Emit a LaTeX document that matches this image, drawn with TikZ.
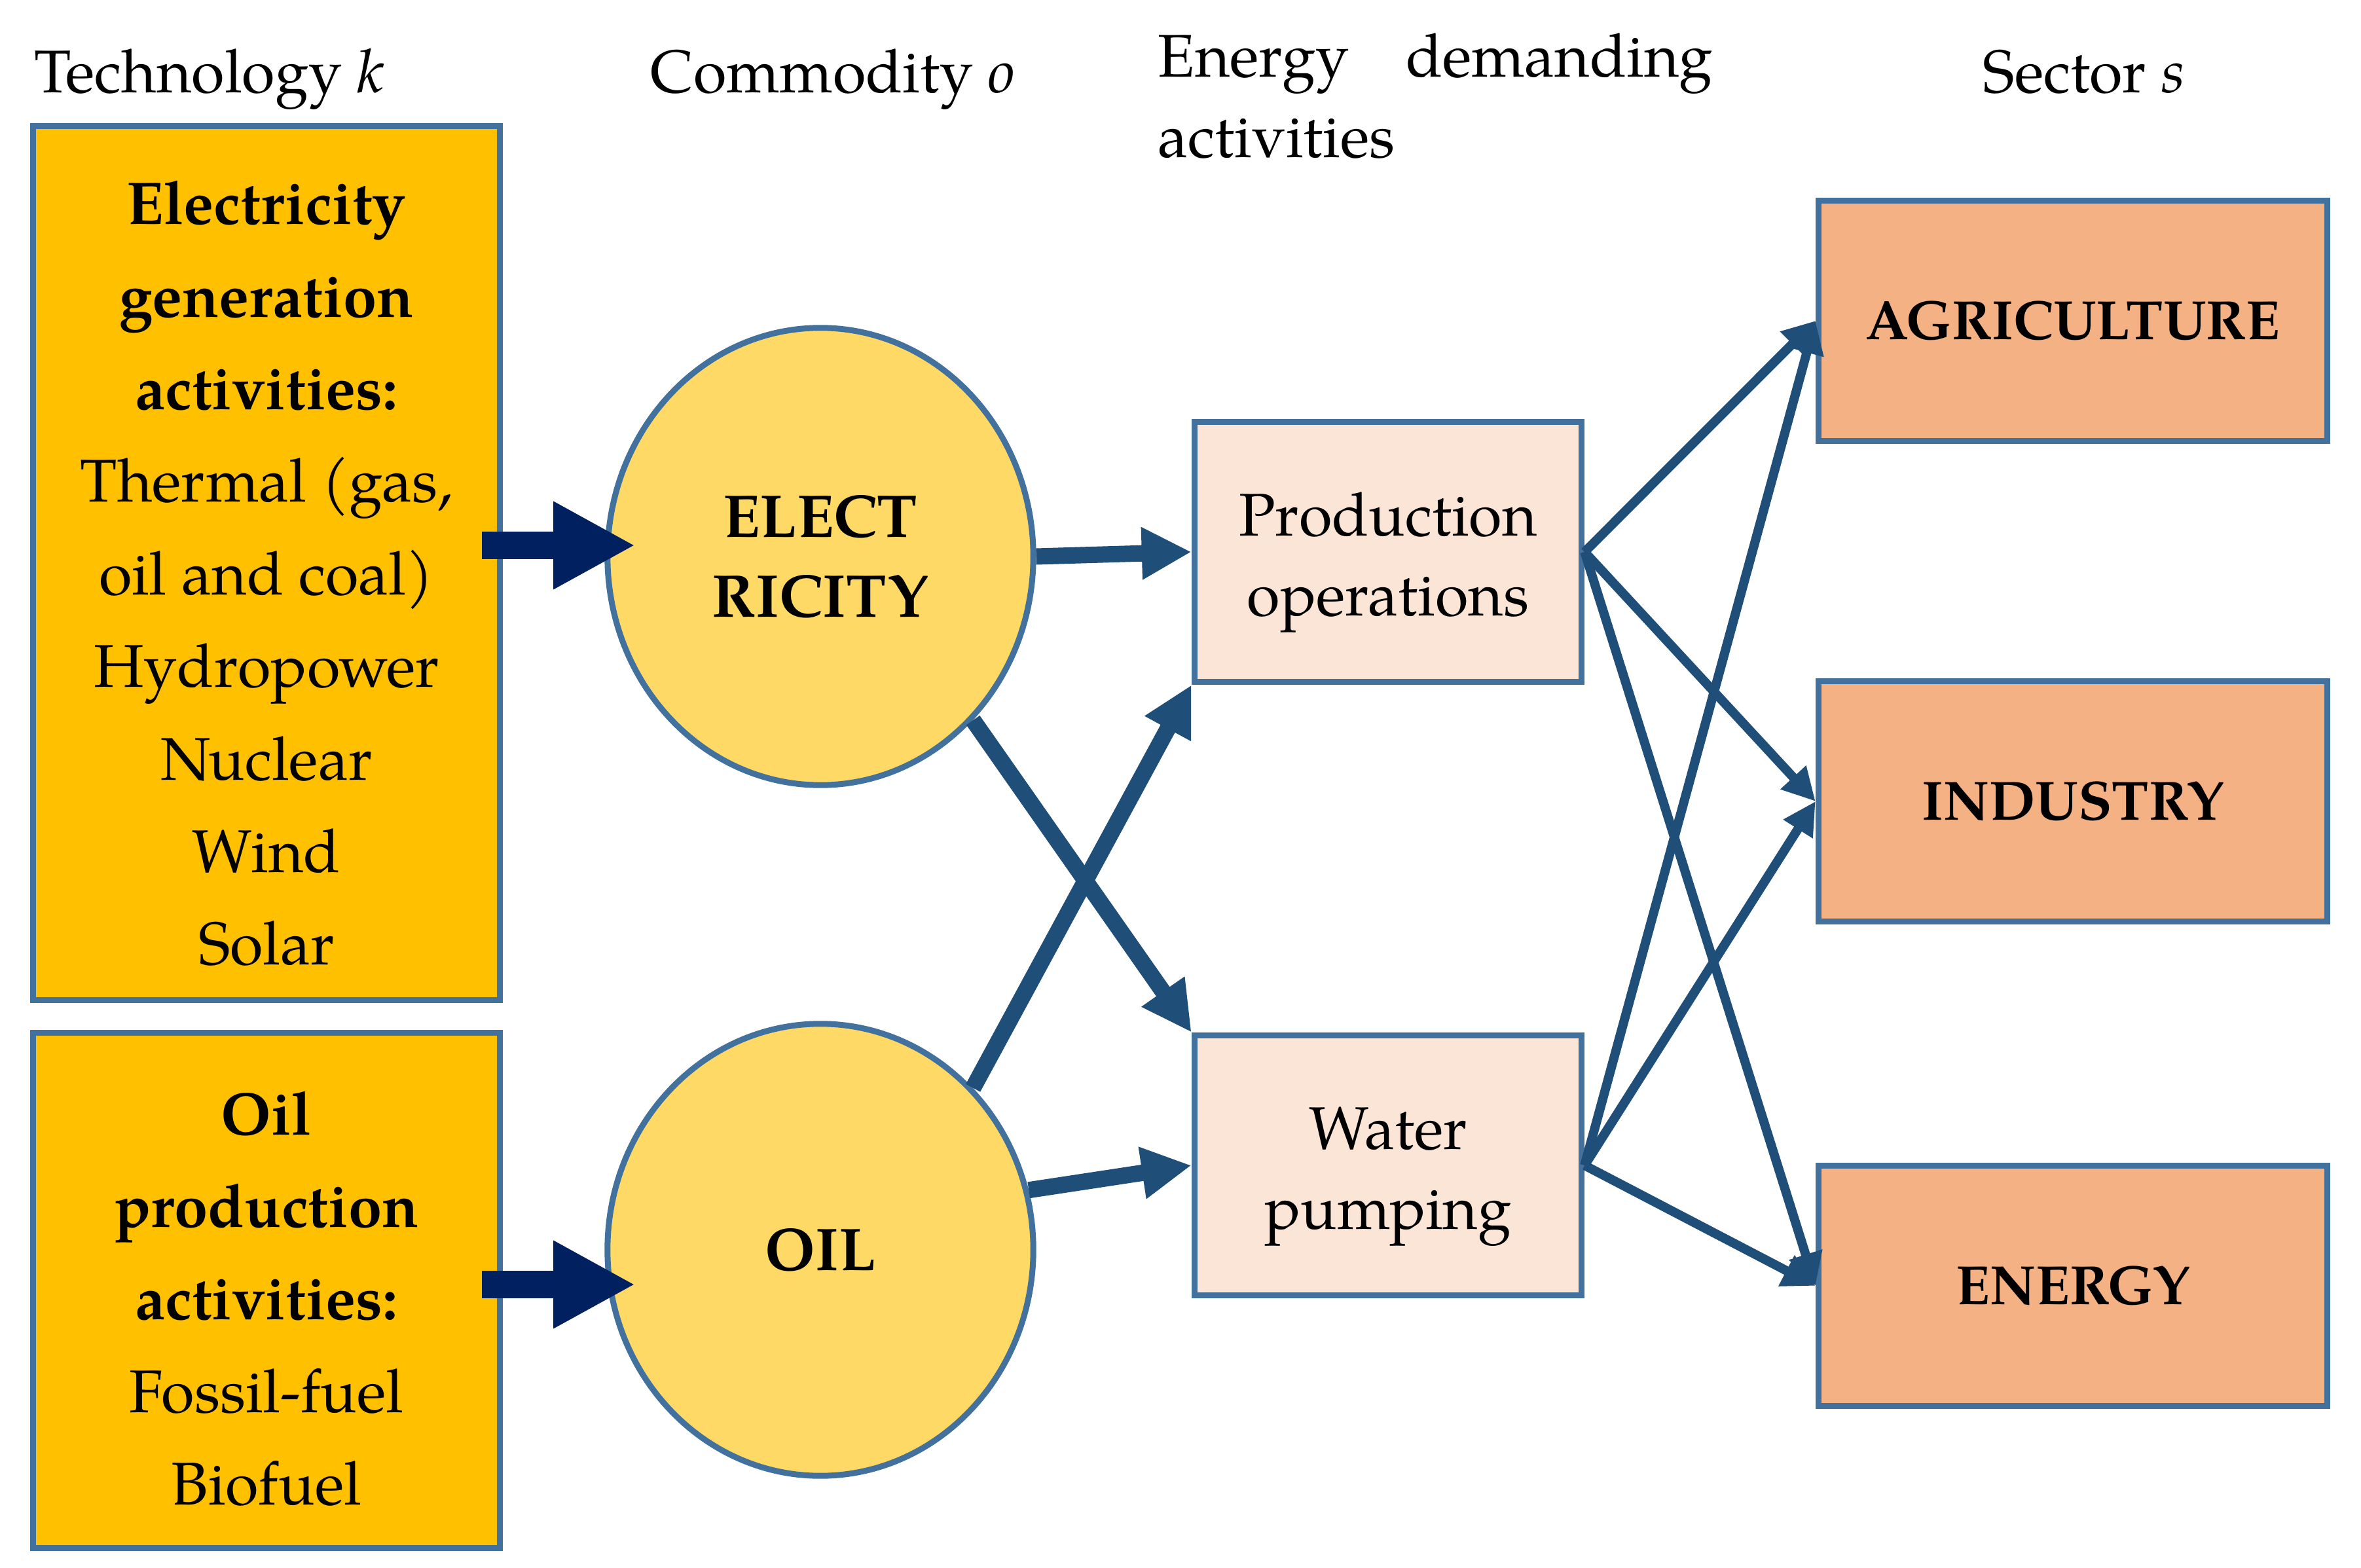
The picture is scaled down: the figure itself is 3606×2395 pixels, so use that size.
\documentclass[tikz,border=0pt]{standalone}
\usepackage{fontspec}
\setmainfont{TeX Gyre Pagella}
\usetikzlibrary{arrows.meta,shapes.geometric,calc}
\definecolor{gold}{HTML}{FFC000}
\definecolor{lgold}{HTML}{FFD966}
\definecolor{peach}{HTML}{FBE5D6}
\definecolor{orng}{HTML}{F4B183}
\definecolor{bord}{HTML}{41719C}
\definecolor{conn}{HTML}{1F4E79}
\definecolor{navy}{HTML}{002060}
\newcommand{\toppad}[1]{\rule{0pt}{#1}}
\tikzset{
 techbox/.style={rectangle, draw=bord, line width=0.09cm, fill=gold, minimum width=7.12cm, align=center, inner sep=0pt, font=\fontsize{26.2}{40.2}\selectfont},
 comm/.style={ellipse, draw=bord, line width=0.09cm, fill=lgold, minimum width=6.5cm, minimum height=6.98cm, align=center, inner sep=0pt, font=\bfseries\fontsize{26.2}{34.7}\selectfont},
 actbox/.style={rectangle, draw=bord, line width=0.09cm, fill=peach, minimum width=5.91cm, minimum height=3.97cm, align=center, inner sep=0pt, font=\fontsize{26.2}{34.7}\selectfont},
 secbox/.style={rectangle, draw=bord, line width=0.09cm, fill=orng, minimum width=7.77cm, minimum height=3.67cm, inner sep=0pt, font=\bfseries\fontsize{24}{30}\selectfont},
 navyarr/.style={draw=navy, line width=0.42cm, -{Triangle[length=1.25cm,width=1.25cm]}},
 thickarr/.style={draw=conn, line width=0.25cm, -{Triangle[length=0.76cm,width=0.75cm]}},
 thinarr/.style={draw=conn, line width=0.14cm, -{Triangle[length=0.5cm,width=0.5cm]}},
 titletext/.style={font=\fontsize{26.2}{34.7}\selectfont, inner sep=0pt}
}
\begin{document}
\begin{tikzpicture}[x=0.01cm,y=-0.01cm]
\useasboundingbox (0,0) rectangle (3606,2395);
\fill[white] (0,0) rectangle (3606,2395);
% titles
\node[titletext, anchor=base west] (ttech) at (52,142) {Technology \textit{k}};
\node[titletext, anchor=base west] (tcomm) at (993,142) {Commodity \textit{o}};
\node[titletext, anchor=base west, text width=8.47cm, align=left] (tener) at (1768,118) {Energy\hfill demanding\\activities};
\node[titletext, anchor=base] (tsec) at (3183,142) {Sector \textit{s}};
% technology boxes
\node[techbox, minimum height=13.34cm] (elecbox) at (407,860) {\toppad{28pt}\textbf{Electricity}\\\textbf{generation}\\\textbf{activities:}\\Thermal (gas,\\oil and coal)\\Hydropower\\Nuclear\\Wind\\Solar};
\node[techbox, minimum height=7.86cm] (oilbox) at (407,1971) {\toppad{26pt}\textbf{Oil}\\\textbf{production}\\\textbf{activities:}\\Fossil-fuel\\Biofuel};
% commodities
\node[comm] (elec) at (1253,850) {ELECT\\RICITY};
\node[comm, minimum height=6.9cm] (oil) at (1253,1909) {OIL};
% activities
\node[actbox] (prod) at (2120,843) {\toppad{28pt}Production\\operations};
\node[actbox] (water) at (2120,1780) {\toppad{28pt}Water\\pumping};
% sectors
\node[secbox] (agri) at (3166,490) {AGRICULTURE};
\node[secbox] (ind) at (3166,1224) {INDUSTRY};
\node[secbox] (ener) at (3166,1964) {ENERGY};
% navy arrows
\draw[navyarr] ($(elecbox.east)+(-32,-27)$) -- ($(elec.west)+(47,-17)$);
\draw[navyarr] ($(oilbox.east)+(-32,-9)$) -- ($(oil.west)+(47,53)$);
% thick connectors
\draw[thickarr] (elec.east) -- (prod.west);
\draw[thickarr] (elec.south east) -- (water.north west);
\draw[thickarr] (oil.north east) -- (prod.south west);
\draw[thickarr] (oil.16) -- (water.west);
% thin connectors
\foreach \s in {agri,ind,ener}{
  \draw[thinarr] (prod.east) -- (\s.west);
  \draw[thinarr] (water.east) -- (\s.west);
}
\end{tikzpicture}
\end{document}
